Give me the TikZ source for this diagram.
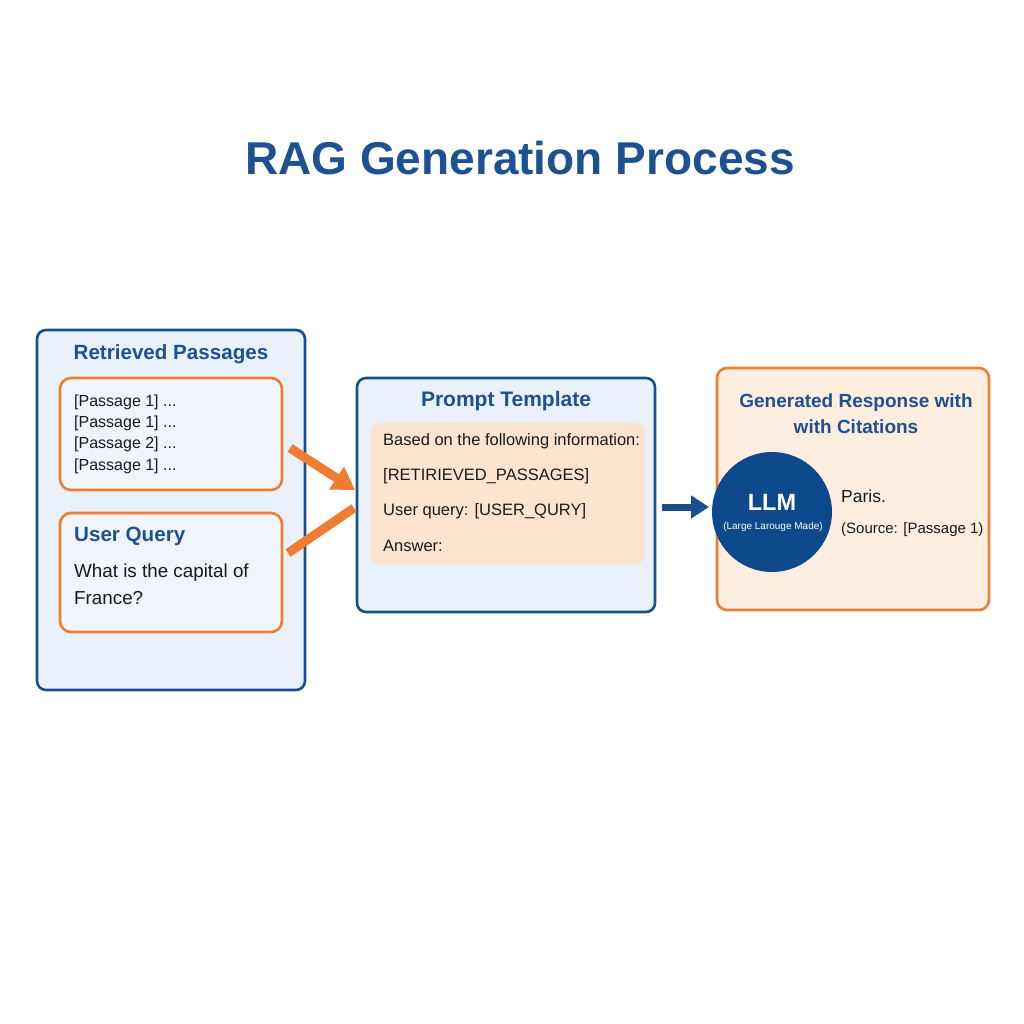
\documentclass[tikz,border=0pt]{standalone}
\usepackage{fontspec}
\setmainfont{Liberation Sans}
\usetikzlibrary{arrows.meta}
\definecolor{dblue}{HTML}{1B4F8C}
\definecolor{tblue}{HTML}{1D5192}
\definecolor{lblue}{HTML}{E9F1FA}
\definecolor{orng}{HTML}{EE7D31}
\definecolor{peach}{HTML}{FDE4CF}
\definecolor{peachbg}{HTML}{FDEEDF}
\definecolor{llmblue}{HTML}{0E4A8B}
\definecolor{txt}{HTML}{1A1A1A}
\tikzset{
  bluebox/.style={draw=dblue, line width=2.6pt, fill=lblue, rounded corners=9pt},
  orangebox/.style={draw=orng, line width=2.6pt, rounded corners=11pt},
  head/.style={font=\fontsize{#1}{#1}\selectfont\bfseries, text=tblue, inner sep=0pt},
  body/.style={font=\fontsize{#1}{#1}\selectfont, text=txt, inner sep=0pt, anchor=west},
}
\begin{document}
\begin{tikzpicture}[x=1pt,y=-1pt]
\useasboundingbox (0,0) rectangle (1024,1024);
\fill[white] (0,0) rectangle (1024,1024);
% title
\node[head=46, anchor=center] (title) at (520,158) {RAG Generation Process};
% left panel
\draw[bluebox] (37,330) rectangle (305,690);
\node[head=20.6] (rp) at (171,354) {Retrieved Passages};
\draw[orangebox, fill=lblue!70!white] (60,378) rectangle (282,490);
\node[body=16] (p1) at (74,402) {[Passage 1] ...};
\node[body=16] (p2) at (74,423) {[Passage 1] ...};
\node[body=16] (p3) at (74,444) {[Passage 2] ...};
\node[body=16] (p4) at (74,466) {[Passage 1] ...};
\draw[orangebox, fill=lblue!70!white] (60,513) rectangle (282,632);
\node[head=20.6, anchor=west] (uq) at (74,536) {User Query};
\node[body=18.8] (q1) at (74,573) {What is the capital of};
\node[body=18.8] (q2) at (74,598) {France?};
% prompt template
\draw[bluebox] (357,378) rectangle (655,612);
\node[head=21] (pt) at (506,401) {Prompt Template};
\fill[peach, rounded corners=9pt] (370,423) rectangle (645,564);
\node[body=16.5] (t1) at (383,441) {Based on the following information:};
\node[body=16.5] (t2) at (383,476) {[RETIRIEVED\_PASSAGES]};
\node[body=16.5] (t3) at (383,511) {User query: [USER\_QURY]};
\node[body=16.5] (t4) at (383,546) {Answer:};
% orange connectors
\coordinate (a1s) at (290,448);
\coordinate (a1e) at (355,490);
\coordinate (a2s) at (288,553);
\coordinate (a2e) at (354,508);
\draw[orng, line width=9pt, -{Triangle[length=22pt,width=26pt]}] (a1s) -- (a1e);
\draw[orng, line width=9pt] (a2s) -- (a2e);
% right panel
\draw[orangebox, fill=peachbg, rounded corners=10pt] (717,368) rectangle (989,610);
\node[head=19, align=center, font=\fontsize{19}{26}\selectfont\bfseries] (gr) at (856,414) {Generated Response with\\with Citations};
\node[circle, fill=llmblue, minimum size=120pt, inner sep=0pt] (llm) at (772,512) {};
\node[font=\fontsize{23.5}{23.5}\selectfont\bfseries, text=white, inner sep=0pt] (llmt) at (772,502) {LLM};
\node[font=\fontsize{10}{10}\selectfont, text=white, inner sep=0pt] (llms) at (773,527) {(Large Larouge Made)};
\node[body=17.5] (paris) at (841,496) {Paris.};
\node[body=15] (src) at (841,530) {(Source: [Passage 1)};
% blue arrow
\coordinate (b1s) at (662,507);
\coordinate (b1e) at (709,507);
\draw[dblue, line width=7pt, -{Triangle[length=18pt,width=22pt]}] (b1s) -- (b1e);
\end{tikzpicture}
\end{document}
